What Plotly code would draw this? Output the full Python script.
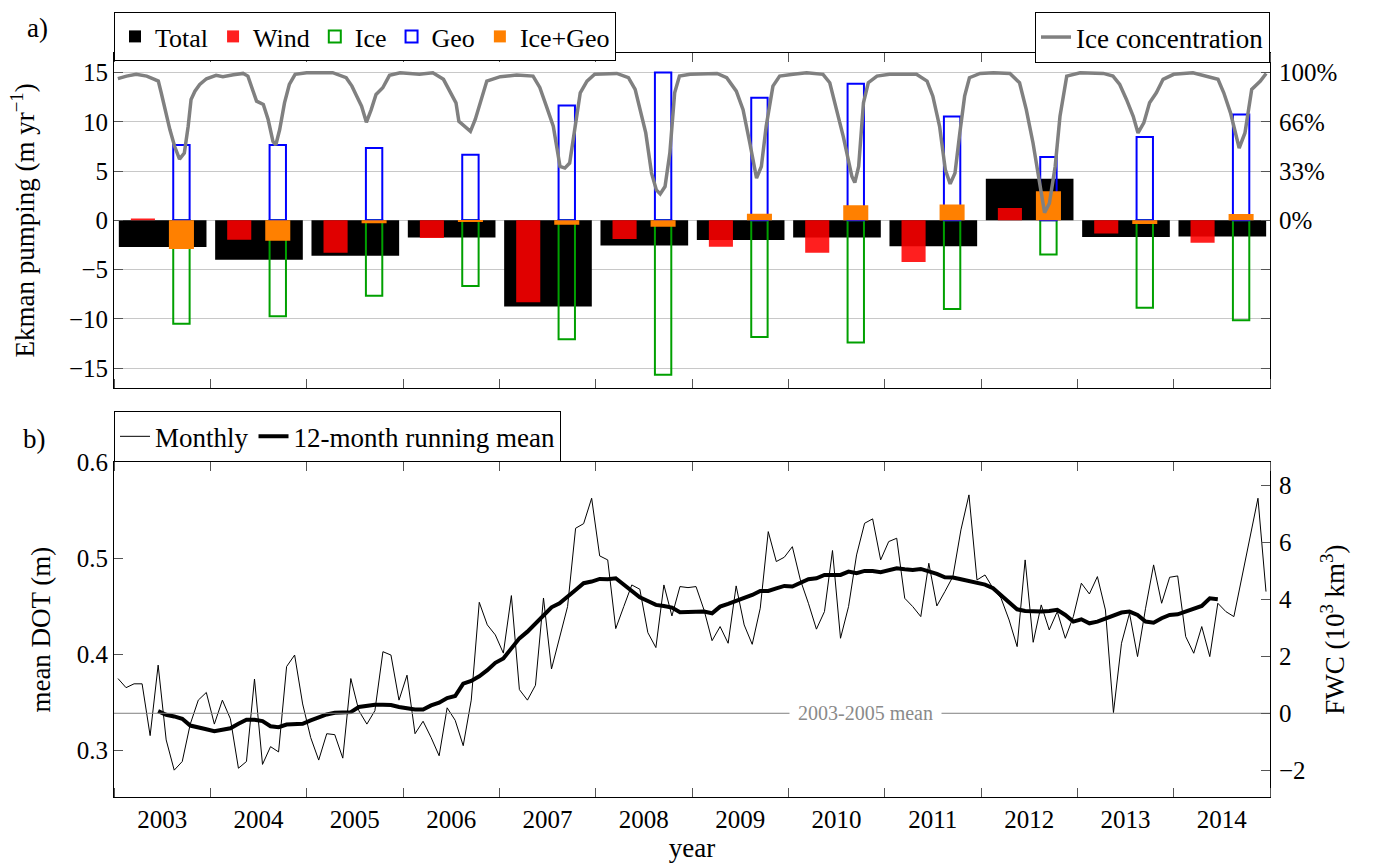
import plotly.graph_objects as go

# ---------------- panel a: annual Ekman pumping components (m/yr) ----------------
years = [2003, 2004, 2005, 2006, 2007, 2008, 2009, 2010, 2011, 2012, 2013, 2014]
total = [-2.70, -4.00, -3.60, -1.75, -8.75, -2.55, -2.00, -1.75, -2.62, 4.22, -1.70, -1.63]
wind = [0.20, -1.97, -3.30, -1.80, -8.33, -1.90, -2.69, -3.30, -4.22, 1.26, -1.33, -2.28]
ice = [-10.50, -9.73, -7.65, -6.67, -12.07, -15.68, -11.84, -12.41, -9.01, -3.47, -8.88, -10.14]
geo = [7.65, 7.65, 7.35, 6.67, 11.67, 15.03, 12.45, 13.88, 10.54, 6.43, 8.47, 10.75]
ice_geo = [-2.90, -2.07, -0.30, -0.08, -0.44, -0.65, 0.68, 1.53, 1.60, 2.96, -0.37, 0.65]

# sea-ice concentration (decimal year, percent)
ice_time = [
    2003.04, 2003.13, 2003.23, 2003.34, 2003.42, 2003.46, 2003.49, 2003.53, 2003.58, 2003.63,
    2003.68, 2003.73, 2003.77, 2003.80, 2003.84, 2003.89, 2003.96,
    2004.06, 2004.13, 2004.24, 2004.34, 2004.39, 2004.44, 2004.48, 2004.55, 2004.60, 2004.65,
    2004.68, 2004.72, 2004.77, 2004.82, 2004.88,
    2005.00, 2005.27, 2005.41, 2005.47, 2005.52, 2005.57, 2005.62, 2005.67, 2005.72, 2005.79,
    2005.86, 2005.97,
    2006.17, 2006.31, 2006.42, 2006.49, 2006.55, 2006.58, 2006.64, 2006.70, 2006.75, 2006.80,
    2006.87,
    2007.01, 2007.18, 2007.35, 2007.42, 2007.49, 2007.56, 2007.63, 2007.68, 2007.73, 2007.78,
    2007.84, 2007.91, 2007.99,
    2008.22, 2008.34, 2008.41, 2008.46, 2008.52, 2008.58, 2008.63, 2008.67, 2008.72, 2008.77,
    2008.82, 2008.87, 2008.98,
    2009.26, 2009.36, 2009.46, 2009.53, 2009.60, 2009.67, 2009.72, 2009.77, 2009.84, 2009.91,
    2010.05, 2010.19, 2010.36, 2010.43, 2010.50, 2010.57, 2010.66, 2010.69, 2010.73, 2010.78,
    2010.83, 2010.92,
    2011.05, 2011.33, 2011.44, 2011.50, 2011.57, 2011.63, 2011.68, 2011.73, 2011.78, 2011.83,
    2011.88, 2011.99,
    2012.13, 2012.30, 2012.40, 2012.47, 2012.54, 2012.61, 2012.66, 2012.71, 2012.77, 2012.82,
    2012.89,
    2013.03, 2013.27, 2013.37, 2013.44, 2013.51, 2013.58, 2013.63, 2013.69, 2013.75, 2013.82,
    2013.89,
    2014.00, 2014.20, 2014.38, 2014.46, 2014.52, 2014.59, 2014.68, 2014.74, 2014.81, 2014.90,
    2014.96,
]
ice_pct = [
    96.0, 97.7, 98.9, 97.7, 95.5, 94.3, 86.4, 75.0, 61.5, 50.0,
    41.5, 45.6, 63.7, 81.9, 87.5, 92.0, 95.9,
    98.2, 97.3, 98.6, 99.5, 97.7, 88.7, 80.7, 78.5, 68.3, 53.5,
    51.2, 61.5, 79.6, 92.0, 98.9,
    100.0, 100.0, 96.6, 90.9, 84.1, 77.3, 66.4, 75.0, 85.3, 89.8,
    98.2, 100.0,
    98.9, 100.0, 95.5, 87.5, 79.6, 67.1, 63.7, 60.3, 68.3, 79.6,
    94.3,
    97.3, 98.4, 97.7, 90.0, 77.0, 63.7, 36.5, 35.4, 38.8, 59.2,
    86.4, 94.3, 98.9,
    99.5, 96.6, 88.7, 75.0, 59.2, 32.0, 20.6, 17.9, 22.9, 45.6,
    86.4, 97.7, 98.9,
    99.5, 96.6, 87.5, 75.0, 52.4, 28.6, 36.5, 63.7, 90.9, 97.7,
    98.9, 100.0, 98.9, 93.2, 75.0, 56.9, 29.7, 25.6, 36.5, 79.6,
    93.2, 97.7,
    98.9, 98.9, 94.3, 84.1, 63.7, 34.2, 24.7, 32.0, 59.2, 84.1,
    96.6, 99.5,
    100.0, 99.5, 93.2, 75.0, 52.4, 22.9, 5.2, 11.6, 36.5, 70.5,
    97.7,
    100.0, 99.5, 97.7, 92.0, 81.9, 70.5, 59.2, 66.0, 79.6, 86.4,
    95.5,
    98.9, 100.0, 97.3, 95.5, 86.4, 72.8, 49.0, 59.2, 88.7, 94.3,
    99.5,
]

# ---------------- panel b: mean dynamic ocean topography (m) ----------------
# monthly values, January 2003 to December 2014
dot_monthly = [
    0.3745, 0.3650, 0.3690, 0.3690, 0.3150, 0.3885, 0.3105, 0.2790, 0.2880, 0.3270, 0.3520, 0.3600,
    0.3270, 0.3520, 0.3325, 0.2810, 0.2880, 0.3740, 0.2850, 0.3035, 0.2980, 0.3870, 0.3990, 0.3480,
    0.3130, 0.2895, 0.3170, 0.3160, 0.2915, 0.3745, 0.3410, 0.3270, 0.3410, 0.4025, 0.3990, 0.3520,
    0.3780, 0.3170, 0.3300, 0.3130, 0.2940, 0.3440, 0.3310, 0.3045, 0.3520, 0.4540, 0.4305, 0.4200,
    0.4010, 0.4610, 0.3630, 0.3520, 0.3675, 0.4585, 0.3845, 0.4165, 0.4495, 0.5312, 0.5360, 0.5625,
    0.5024, 0.4982, 0.4266, 0.4495, 0.4721, 0.4676, 0.4224, 0.4068, 0.4721, 0.4398, 0.4704, 0.4693,
    0.4704, 0.4460, 0.4140, 0.4287, 0.4113, 0.4711, 0.4304, 0.4102, 0.4478, 0.5277, 0.4965, 0.5010,
    0.5120, 0.4773, 0.4530, 0.4260, 0.4443, 0.5080, 0.4165, 0.4495, 0.5034, 0.5364, 0.5410, 0.4982,
    0.5173, 0.5208, 0.4582, 0.4495, 0.4391, 0.4947, 0.4502, 0.4652, 0.4808, 0.5295, 0.5660, 0.4773,
    0.4825, 0.4686, 0.4582, 0.4356, 0.4078, 0.4982, 0.4123, 0.4513, 0.4252, 0.4443, 0.4165, 0.4391,
    0.4739, 0.4627, 0.4808, 0.4460, 0.3390, 0.4113, 0.4426, 0.3974, 0.4478, 0.4930, 0.4530, 0.4801,
    0.4815, 0.4182, 0.4009, 0.4287, 0.3974, 0.4530, 0.4443, 0.4391, 0.4808, 0.5225, 0.5625, 0.4652,
]
# 12-month running mean, June 2003 to June 2014
dot_running = [
    0.3406, 0.3367, 0.3350, 0.3325, 0.3255, 0.3231, 0.3217, 0.3196, 0.3210, 0.3227,
    0.3273, 0.3315, 0.3315, 0.3301, 0.3248, 0.3238, 0.3266, 0.3273, 0.3273, 0.3308,
    0.3336, 0.3371, 0.3388, 0.3388, 0.3395, 0.3448, 0.3465, 0.3472, 0.3472, 0.3469,
    0.3448, 0.3437, 0.3423, 0.3423, 0.3465, 0.3493, 0.3542, 0.3563, 0.3692, 0.3720,
    0.3769, 0.3832, 0.3909, 0.3955, 0.4059, 0.4164, 0.4234, 0.4322, 0.4400, 0.4488,
    0.4530, 0.4593, 0.4669, 0.4739, 0.4756, 0.4784, 0.4780, 0.4791, 0.4721, 0.4662,
    0.4593, 0.4554, 0.4513, 0.4502, 0.4485, 0.4436, 0.4436, 0.4440, 0.4443, 0.4426,
    0.4495, 0.4523, 0.4554, 0.4589, 0.4617, 0.4659, 0.4659, 0.4686, 0.4711, 0.4704,
    0.4739, 0.4780, 0.4791, 0.4825, 0.4825, 0.4825, 0.4860, 0.4843, 0.4867, 0.4867,
    0.4853, 0.4878, 0.4895, 0.4885, 0.4878, 0.4888, 0.4867, 0.4836, 0.4801, 0.4798,
    0.4780, 0.4760, 0.4750, 0.4725, 0.4686, 0.4617, 0.4547, 0.4467, 0.4450, 0.4443,
    0.4443, 0.4450, 0.4461, 0.4408, 0.4339, 0.4363, 0.4321, 0.4339, 0.4367, 0.4398,
    0.4433, 0.4443, 0.4408, 0.4339, 0.4328, 0.4374, 0.4408, 0.4415, 0.4443, 0.4478,
    0.4502, 0.4582, 0.4572,
]
running_start = 5            # first month index of the running mean
dot_ref = 0.3383             # 2003-2005 mean DOT (m)
fwc_per_m = 33.65            # freshwater content (10^3 km^3) per metre of DOT

x_range = [2003, 2015]
year_edges = list(range(x_range[0], x_range[1] + 1))
year_mids = [y + 0.5 for y in years]

month_time = [x_range[0] + (k + 0.5) / 12 for k in range(len(dot_monthly))]
running_time = month_time[running_start:running_start + len(dot_running)]

dot_range = [0.251, 0.6]
fwc_range = [(v - dot_ref) * fwc_per_m for v in dot_range]
ekman_range = [-17, 17]
ice_full = 100 / 15          # 100 % ice cover sits at 15 m/yr
ice_range = [v * ice_full for v in ekman_range]

# figure geometry (pixels)
FIG_W, FIG_H = 1375, 863
M_L, M_R, M_T, M_B = 114, 105, 53, 66
PLOT_H = FIG_H - M_T - M_B
TOP_DOMAIN = [0.5501, 1.0]
BOTTOM_DOMAIN = [0.0, 0.4499]
LEGEND_TOP_GAP = 41          # top legends hang from this far above panel a


def offset_from(domain_edge, px):
    return domain_edge + px / PLOT_H


FONT = "Liberation Serif"
TICK = "#555555"
TICK_SIZE = 25
TITLE_SIZE = 27

fig = go.Figure()

# bars: the total spans the year, the wind bar sits left, ice/geo bars sit right
fig.add_trace(go.Bar(x=[y + 0.505 for y in years], y=total, width=0.91, name="Total",
                     marker=dict(color="black", line=dict(width=0)),
                     xaxis="x", yaxis="y", legend="legend"))
fig.add_trace(go.Bar(x=[y + 0.30 for y in years], y=wind, width=0.25, name="Wind",
                     marker=dict(color="rgba(255,0,0,0.88)", line=dict(width=0)),
                     xaxis="x", yaxis="y", legend="legend"))
fig.add_trace(go.Bar(x=[y + 0.70 for y in years], y=ice, width=0.17, name="Ice",
                     marker=dict(color="rgba(0,0,0,0)", line=dict(color="#00a000", width=2)),
                     xaxis="x", yaxis="y", legend="legend"))
fig.add_trace(go.Bar(x=[y + 0.70 for y in years], y=geo, width=0.17, name="Geo",
                     marker=dict(color="rgba(0,0,0,0)", line=dict(color="#0000ff", width=2)),
                     xaxis="x", yaxis="y", legend="legend"))
fig.add_trace(go.Bar(x=[y + 0.70 for y in years], y=ice_geo, width=0.26, name="Ice+Geo",
                     marker=dict(color="#ff8000", line=dict(width=0)),
                     xaxis="x", yaxis="y", legend="legend"))
fig.add_trace(go.Scatter(x=ice_time, y=ice_pct, mode="lines", name="Ice concentration",
                         line=dict(color="#808080", width=3.5),
                         xaxis="x", yaxis="y2", legend="legend2"))

# panel b
fig.add_trace(go.Scatter(x=x_range, y=[0, 0], mode="lines", showlegend=False,
                         line=dict(color="#808080", width=1), hoverinfo="skip",
                         xaxis="x2", yaxis="y4"))
fig.add_trace(go.Scatter(x=month_time, y=dot_monthly, mode="lines", name="Monthly",
                         line=dict(color="black", width=1),
                         xaxis="x2", yaxis="y3", legend="legend3"))
fig.add_trace(go.Scatter(x=running_time, y=dot_running, mode="lines",
                         name="12-month running mean",
                         line=dict(color="black", width=4),
                         xaxis="x2", yaxis="y3", legend="legend3"))

xaxis_common = dict(
    range=x_range, showgrid=False, zeroline=False, automargin=False,
    showline=True, linecolor="black", linewidth=1, mirror="ticks",
    tickmode="array", tickvals=year_mids, ticktext=[str(y) for y in years], ticks="",
    tickfont=dict(size=TICK_SIZE),
    minor=dict(tickmode="array", tickvals=year_edges, ticks="inside", ticklen=9,
               tickcolor=TICK, showgrid=False),
)


def legend_box(size, **kw):
    return dict(orientation="h", bgcolor="white", bordercolor="black", borderwidth=1,
                font=dict(family=FONT, size=size, color="black"), **kw)


fig.update_layout(
    width=FIG_W, height=FIG_H,
    margin=dict(l=M_L, r=M_R, t=M_T, b=M_B),
    plot_bgcolor="white", paper_bgcolor="white",
    font=dict(family=FONT, size=TICK_SIZE, color="black"),
    barmode="overlay",
    showlegend=True,
    xaxis=dict(xaxis_common, anchor="y", showticklabels=False),
    yaxis=dict(domain=TOP_DOMAIN, range=ekman_range, anchor="x", automargin=False,
               tickvals=[-15, -10, -5, 0, 5, 10, 15], ticks="inside", ticklen=9,
               tickcolor=TICK, showgrid=True, gridcolor="#c8c8c8", gridwidth=1,
               zeroline=False, showline=True, linecolor="black", linewidth=1,
               mirror="ticks",
               title=dict(text="Ekman pumping (m yr<sup>−1</sup>)", standoff=26,
                          font=dict(size=TITLE_SIZE))),
    yaxis2=dict(overlaying="y", side="right", anchor="x", range=ice_range,
                automargin=False,
                tickmode="array", tickvals=[0, 100 / 3, 200 / 3, 100],
                ticktext=["0%", "33%", "66%", "100%"], ticks="inside", ticklen=9,
                ticklabelstandoff=8,
                tickcolor=TICK, showgrid=False, zeroline=False, showline=False),
    xaxis2=dict(xaxis_common, anchor="y3", matches="x", showticklabels=True,
                title=dict(text="year", standoff=10, font=dict(size=TITLE_SIZE))),
    yaxis3=dict(domain=BOTTOM_DOMAIN, range=dot_range, anchor="x2", automargin=False,
                tickvals=[0.3, 0.4, 0.5, 0.6], tickformat=".1f", ticks="inside",
                ticklen=9, tickcolor=TICK, showgrid=False, zeroline=False,
                showline=True, linecolor="black", linewidth=1, mirror=True,
                title=dict(text="mean DOT (m)", standoff=18, font=dict(size=TITLE_SIZE))),
    yaxis4=dict(overlaying="y3", side="right", anchor="x2", range=fwc_range,
                automargin=False,
                tickvals=[-2, 0, 2, 4, 6, 8], ticks="inside", ticklen=9,
                ticklabelstandoff=8,
                tickcolor=TICK, showgrid=False, zeroline=False, showline=False,
                title=dict(text="FWC (10<sup>3</sup> km<sup>3</sup>)", standoff=20,
                           font=dict(size=TITLE_SIZE))),
    legend=legend_box(26, x=0.0, xanchor="left", yanchor="top",
                      y=offset_from(TOP_DOMAIN[1], LEGEND_TOP_GAP), itemsizing="constant"),
    legend2=legend_box(27, x=1.0, xanchor="right", yanchor="top",
                       y=offset_from(TOP_DOMAIN[1], LEGEND_TOP_GAP)),
    legend3=legend_box(27, x=0.0, xanchor="left", yanchor="bottom", y=BOTTOM_DOMAIN[1]),
    annotations=[
        dict(text="a)", xref="paper", yref="paper", x=-0.0666,
             y=offset_from(TOP_DOMAIN[1], 25), xanchor="center", yanchor="middle",
             showarrow=False, font=dict(family=FONT, size=TITLE_SIZE)),
        dict(text="b)", xref="paper", yref="paper", x=-0.0685,
             y=offset_from(BOTTOM_DOMAIN[1], 23), xanchor="center", yanchor="middle",
             showarrow=False, font=dict(family=FONT, size=TITLE_SIZE)),
        dict(text="2003-2005 mean", xref="x2", yref="y4", x=2010.8, y=0,
             xanchor="center", yanchor="middle",
             showarrow=False, bgcolor="white", borderpad=8,
             font=dict(family=FONT, size=20, color="#8a8a8a")),
    ],
)

fig.write_html("out.html")
